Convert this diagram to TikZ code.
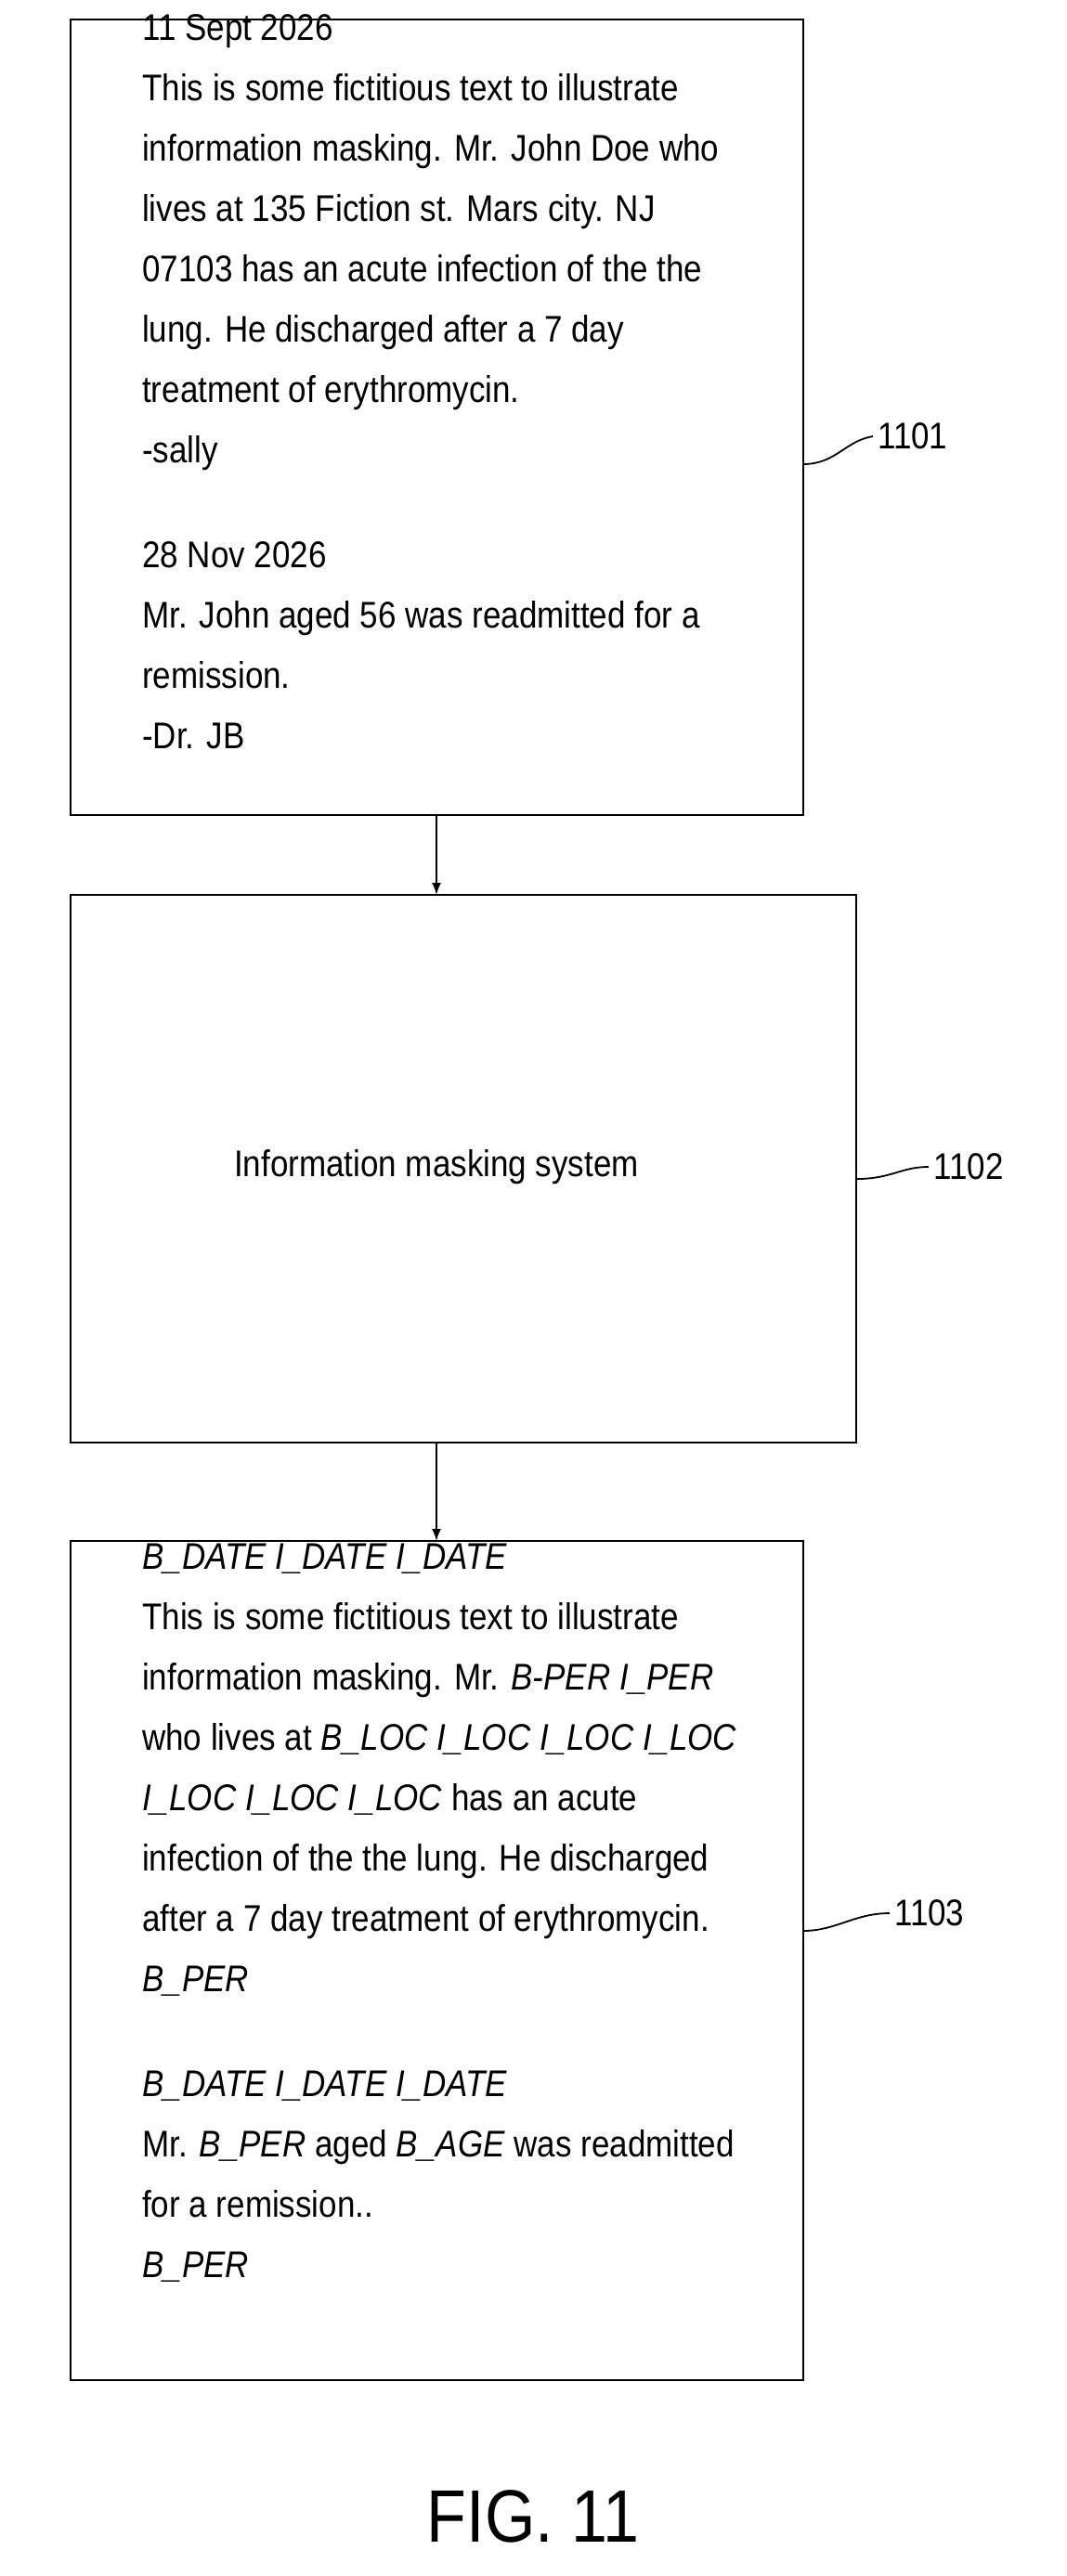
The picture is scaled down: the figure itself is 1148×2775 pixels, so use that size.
\documentclass[tikz,border=0pt]{standalone}
\usepackage{fontspec}
\setmainfont[FakeStretch=0.875]{Liberation Sans}
\usetikzlibrary{arrows}
\tikzstyle{fig}=[x=0.5pt, y=-0.5pt, line width=1.2pt, font=\fontsize{20}{32.5}\selectfont]
\tikzstyle{blk}=[draw, line width=1.2pt]
\tikzstyle{txt}=[inner sep=0pt, anchor=north west, align=left]
\tikzstyle{ref}=[inner sep=2pt, anchor=west]
\tikzstyle{edge}=[line width=1.2pt, arrows={-latex[scale=1.6]}]
\tikzstyle{lead}=[line width=0.9pt]
\begin{document}
\begin{tikzpicture}[fig]
	\useasboundingbox (0,0) rectangle (1148,2775);
	%% input record
	\draw[blk] (76,21) rectangle (865,878);
	\coordinate (b1n) at (470,21);
	\coordinate (b1s) at (470,878);
	\coordinate (b1e) at (865,500);
	\node[txt] (t1) at (152,14) {11 Sept 2026\\
		This is some fictitious text to illustrate\\
		information masking. Mr. John Doe who\\
		lives at 135 Fiction st. Mars city. NJ\\
		07103 has an acute infection of the the\\
		lung. He discharged after a 7 day\\
		treatment of erythromycin.\\
		-sally\\[24pt]
		28 Nov 2026\\
		Mr. John aged 56 was readmitted for a\\
		remission.\\
		-Dr. JB};
	%% system
	\draw[blk] (76,964) rectangle (922,1554);
	\coordinate (b2n) at (470,964);
	\coordinate (b2s) at (470,1554);
	\coordinate (b2e) at (922,1270);
	\node (sys) at (470,1257) {Information masking system};
	%% masked record
	\draw[blk] (76,1660) rectangle (865,2564);
	\coordinate (b3n) at (470,1660);
	\coordinate (b3e) at (865,2080);
	\node[txt] (t3) at (152,1662) {\itshape B\_DATE I\_DATE I\_DATE\\
		This is some fictitious text to illustrate\\
		information masking. Mr. \textit{B-PER I\_PER}\\
		who lives at \textit{B\_LOC I\_LOC I\_LOC I\_LOC}\\
		\textit{I\_LOC I\_LOC I\_LOC} has an acute\\
		infection of the the lung. He discharged\\
		after a 7 day treatment of erythromycin.\\
		\textit{B\_PER}\\[24pt]
		\textit{B\_DATE I\_DATE I\_DATE}\\
		Mr. \textit{B\_PER} aged \textit{B\_AGE} was readmitted\\
		for a remission..\\
		\textit{B\_PER}};
	%%
	\draw[edge] (b1s) -- (b2n);
	\draw[edge] (b2s) -- (b3n);
	%% reference labels
	\node[ref] (r1) at (940,470) {1101};
	\node[ref] (r2) at (1000,1257) {1102};
	\node[ref] (r3) at (958,2061) {1103};
	\draw[lead] (b1e) .. controls (900,500) and (910,475) .. (r1.west);
	\draw[lead] (b2e) .. controls (960,1270) and (970,1257) .. (r2.west);
	\draw[lead] (b3e) .. controls (900,2080) and (920,2061) .. (r3.west);
	%%
	\node (cap) at (574,2711) {\fontsize{40}{48}\selectfont FIG. 11};
\end{tikzpicture}
\end{document}
